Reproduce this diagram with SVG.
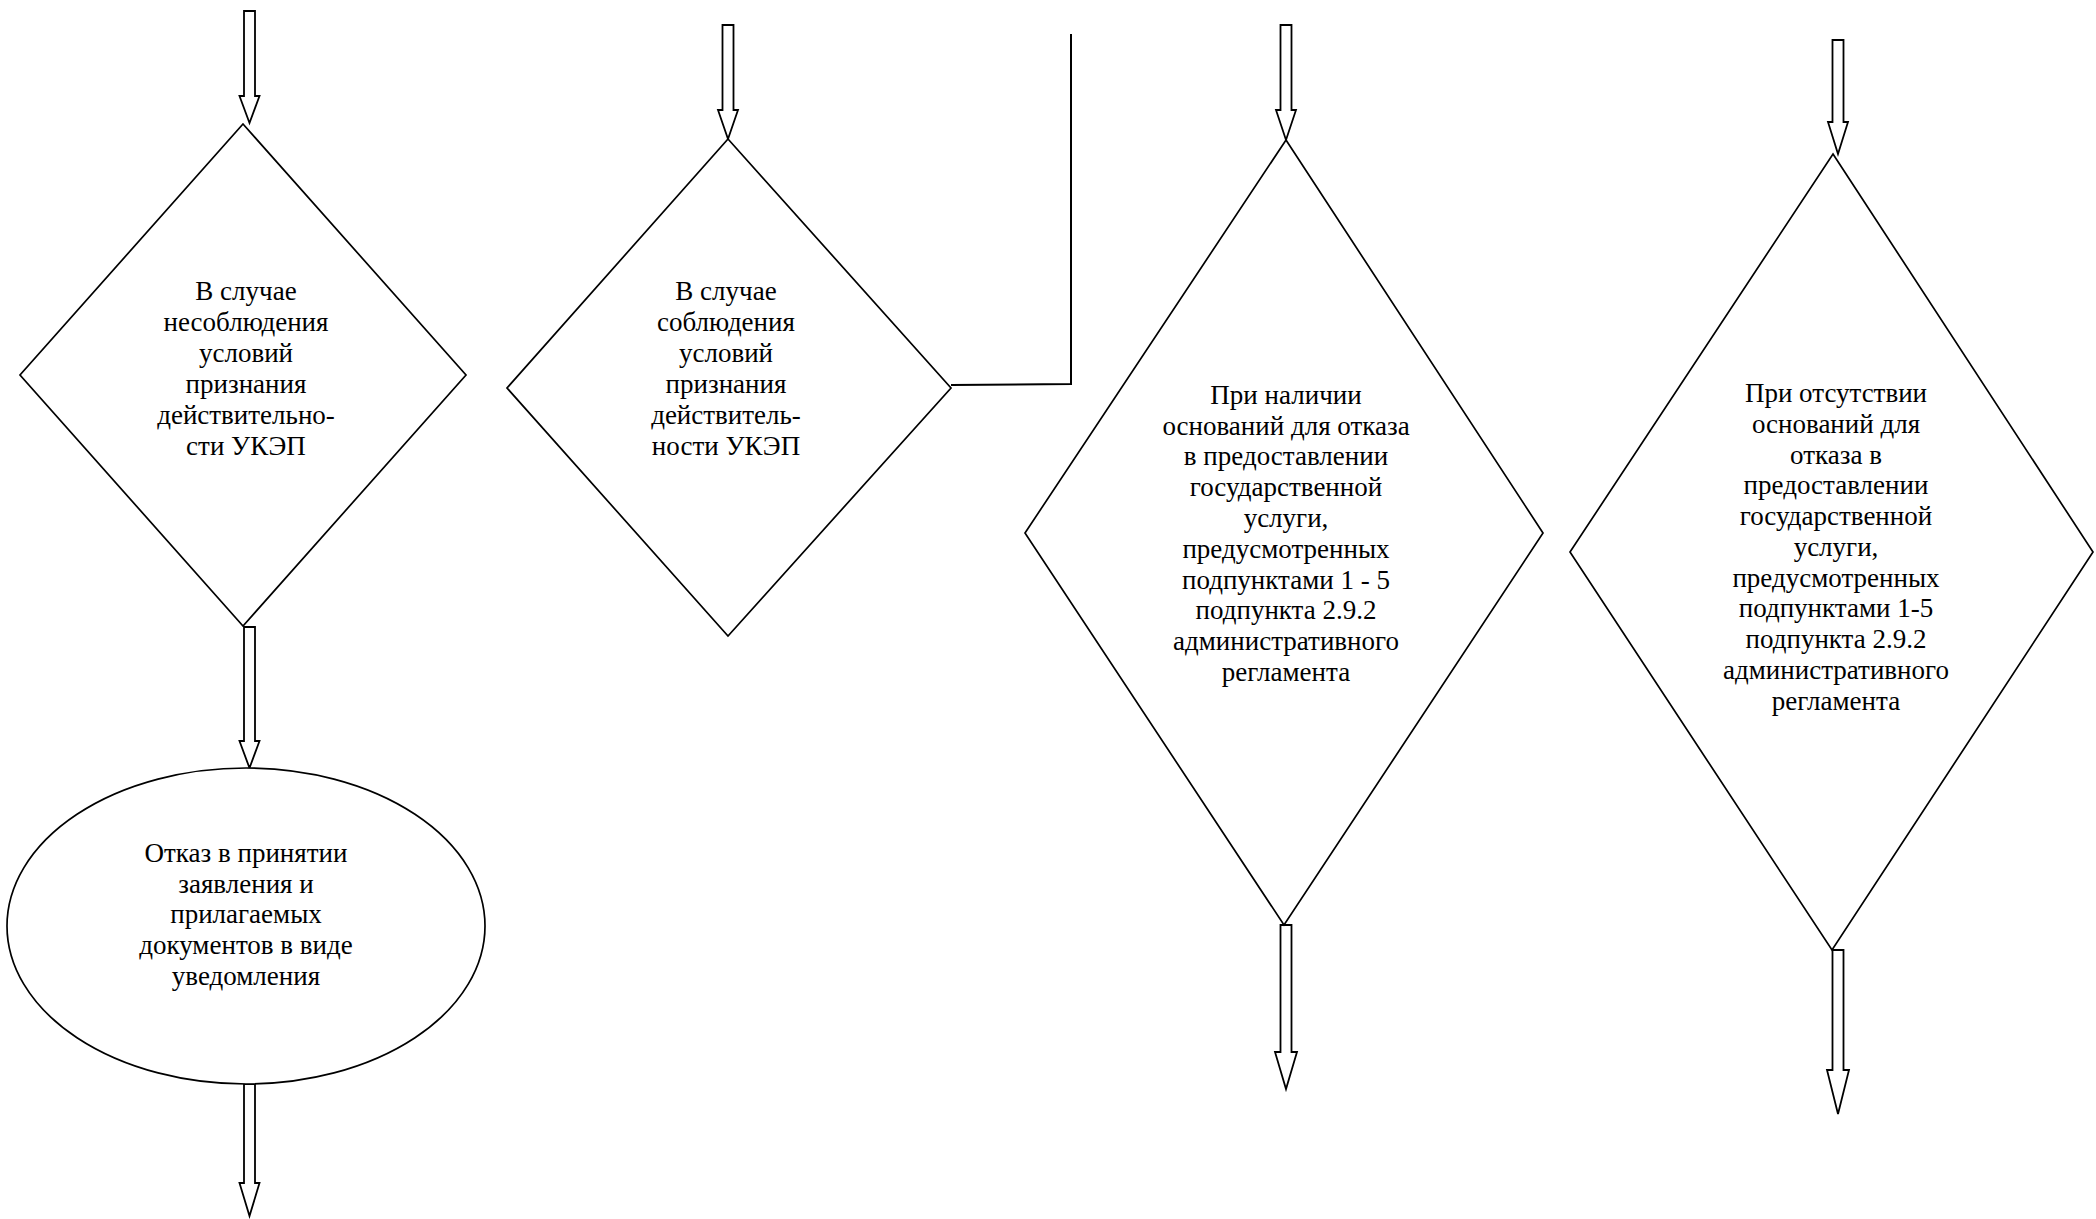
<svg xmlns="http://www.w3.org/2000/svg" width="2096" height="1219" viewBox="0 0 2096 1219">
  <style>
    .shape { fill: #ffffff; stroke: #000000; stroke-width: 1.7; }
    .arrow { fill: #ffffff; stroke: #000000; stroke-width: 1.8; stroke-linejoin: miter; }
    .link { fill: none; stroke: #000000; stroke-width: 2; }
    .label { font-family: "Liberation Serif", "Times New Roman", serif; font-size: 27px; fill: #000000; text-anchor: middle; }
  </style>
  <rect width="2096" height="1219" fill="#ffffff"/>

  <!-- connectors: block arrows and the return line -->
  <g id="connectors">
    <path class="arrow" d="M244,11 L255,11 L255,96 L259.5,96 L249.5,123 L239.5,96 L244,96 Z"/>
    <path class="arrow" d="M244,627 L255,627 L255,741 L259.5,741 L249.5,768 L239.5,741 L244,741 Z"/>
    <path class="arrow" d="M244,1084 L255,1084 L255,1183 L259.5,1183 L249.5,1216 L239.5,1183 L244,1183 Z"/>
    <path class="arrow" d="M722.5,25 L733.5,25 L733.5,110 L738,110 L728,139 L718,110 L722.5,110 Z"/>
    <path class="arrow" d="M1280.5,25 L1291.5,25 L1291.5,110 L1296,110 L1286,140 L1276,110 L1280.5,110 Z"/>
    <path class="arrow" d="M1280.5,925 L1291.5,925 L1291.5,1052 L1297,1052 L1286,1089 L1275,1052 L1280.5,1052 Z"/>
    <path class="arrow" d="M1832.5,40 L1843.5,40 L1843.5,122 L1848,122 L1838,154 L1828,122 L1832.5,122 Z"/>
    <path class="arrow" d="M1832.5,950 L1843.5,950 L1843.5,1070 L1849,1070 L1838,1114 L1827,1070 L1832.5,1070 Z"/>
    <polyline class="link" points="951,385 1071,384 1071,34"/>
  </g>

  <!-- decision: invalid signature -->
  <g id="node-invalid">
    <polygon class="shape" points="243,124 466,375 243,626 20,375"/>
    <text class="label" x="246" y="300">В случае</text>
    <text class="label" x="246" y="331">несоблюдения</text>
    <text class="label" x="246" y="362">условий</text>
    <text class="label" x="246" y="393">признания</text>
    <text class="label" x="246" y="424">действительно-</text>
    <text class="label" x="246" y="455">сти УКЭП</text>
  </g>

  <!-- terminal: refusal notice -->
  <g id="node-refusal">
    <ellipse class="shape" cx="246" cy="926" rx="239" ry="158"/>
    <text class="label" x="246" y="862">Отказ в принятии</text>
    <text class="label" x="246" y="893">заявления и</text>
    <text class="label" x="246" y="923">прилагаемых</text>
    <text class="label" x="246" y="954">документов в виде</text>
    <text class="label" x="246" y="985">уведомления</text>
  </g>

  <!-- decision: valid signature -->
  <g id="node-valid">
    <polygon class="shape" points="728,139 951,388 728,636 507,388"/>
    <text class="label" x="726" y="300">В случае</text>
    <text class="label" x="726" y="331">соблюдения</text>
    <text class="label" x="726" y="362">условий</text>
    <text class="label" x="726" y="393">признания</text>
    <text class="label" x="726" y="424">действитель-</text>
    <text class="label" x="726" y="455">ности УКЭП</text>
  </g>

  <!-- decision: grounds for refusal present -->
  <g id="node-grounds">
    <polygon class="shape" points="1286,140 1543,533 1284,925 1025,533"/>
    <text class="label" x="1286" y="404">При наличии</text>
    <text class="label" x="1286" y="435">оснований для отказа</text>
    <text class="label" x="1286" y="465">в предоставлении</text>
    <text class="label" x="1286" y="496">государственной</text>
    <text class="label" x="1286" y="527">услуги,</text>
    <text class="label" x="1286" y="558">предусмотренных</text>
    <text class="label" x="1286" y="589">подпунктами 1 - 5</text>
    <text class="label" x="1286" y="619">подпункта 2.9.2</text>
    <text class="label" x="1286" y="650">административного</text>
    <text class="label" x="1286" y="681">регламента</text>
  </g>

  <!-- decision: no grounds for refusal -->
  <g id="node-no-grounds">
    <polygon class="shape" points="1833,154 2093,552 1832,950 1570,552"/>
    <text class="label" x="1836" y="402">При отсутствии</text>
    <text class="label" x="1836" y="433">оснований для</text>
    <text class="label" x="1836" y="464">отказа в</text>
    <text class="label" x="1836" y="494">предоставлении</text>
    <text class="label" x="1836" y="525">государственной</text>
    <text class="label" x="1836" y="556">услуги,</text>
    <text class="label" x="1836" y="587">предусмотренных</text>
    <text class="label" x="1836" y="617">подпунктами 1-5</text>
    <text class="label" x="1836" y="648">подпункта 2.9.2</text>
    <text class="label" x="1836" y="679">административного</text>
    <text class="label" x="1836" y="710">регламента</text>
  </g>
</svg>
